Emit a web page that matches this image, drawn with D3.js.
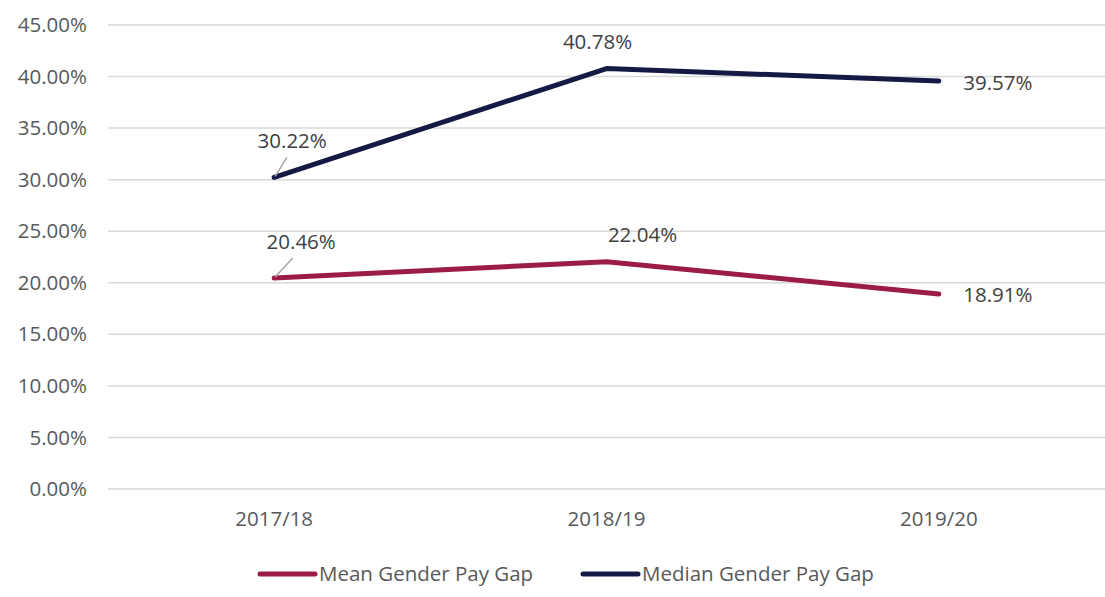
<!DOCTYPE html>
<html>
<head>
<meta charset="utf-8">
<script src="https://cdn.jsdelivr.net/npm/d3@7"></script>
<style>
  body { margin: 0; background: #fff; }
  svg { display: block; font-family: "Open Sans", sans-serif; }
</style>
</head>
<body>
<div id="chart"></div>
<script>
// data
const years = ["2017/18", "2018/19", "2019/20"];
const meanGap = [20.46, 22.04, 18.91];
const medianGap = [30.22, 40.78, 39.57];
const yTicks = [0, 5, 10, 15, 20, 25, 30, 35, 40, 45];
const seriesNames = ["Mean Gender Pay Gap", "Median Gender Pay Gap"];
const colors = ["#9b1c46", "#151a45"];

const width = 1105, height = 597;
const margin = { top: 25, right: 0, bottom: 108, left: 108 };
const innerW = width - margin.left - margin.right;
const innerH = height - margin.top - margin.bottom;
const font = "\"Open Sans\", sans-serif";
const fontSize = "20.5px";

const svg = d3.select("#chart").append("svg")
  .attr("width", width)
  .attr("height", height);

const g = svg.append("g")
  .attr("transform", `translate(${margin.left},${margin.top})`);

const x = d3.scaleBand().domain(years).range([0, innerW]);
const y = d3.scaleLinear().domain([0, 45]).range([innerH, 0]);
const cx = d => x(d) + x.bandwidth() / 2;

// gridlines
g.selectAll(".grid").data(yTicks).enter().append("line")
  .attr("x1", 0).attr("x2", innerW)
  .attr("y1", d => y(d)).attr("y2", d => y(d))
  .attr("stroke", "#d9d9d9")
  .attr("stroke-width", 1.5);

// y axis labels
const yAxis = d3.axisLeft(y).tickValues(yTicks)
  .tickFormat(d => d.toFixed(2) + "%").tickSize(0).tickPadding(21);
g.append("g").call(yAxis)
  .call(a => a.select(".domain").remove())
  .selectAll("text")
  .attr("fill", "#595959")
  .attr("font-size", fontSize)
  .attr("font-family", font);

// x axis labels
const xAxis = d3.axisBottom(x).tickSize(0).tickPadding(22);
g.append("g").attr("transform", `translate(0,${innerH})`).call(xAxis)
  .call(a => a.select(".domain").remove())
  .selectAll("text")
  .attr("fill", "#595959")
  .attr("font-size", fontSize)
  .attr("font-family", font);

// lines
const line = d3.line().x((d, i) => cx(years[i])).y(d => y(d));
[meanGap, medianGap].forEach((vals, k) => {
  g.append("path")
    .datum(vals)
    .attr("fill", "none")
    .attr("stroke", colors[k])
    .attr("stroke-width", 5)
    .attr("stroke-linecap", "round")
    .attr("stroke-linejoin", "round")
    .attr("d", line);
});

// data labels: offsets relative to point (label centre x, baseline y)
const labelOffsets = [
  [[27, -29], [36, -20], [59, 8]],
  [[18, -29], [-9, -20], [59, 9]]
];
[meanGap, medianGap].forEach((vals, k) => {
  vals.forEach((v, i) => {
    const px = cx(years[i]), py = y(v);
    const [dx, dy] = labelOffsets[k][i];
    if (i === 0) {
      // leader line
      g.append("line")
        .attr("x1", px + 1).attr("y1", py - 1)
        .attr("x2", px + dx * 0.65 + 1).attr("y2", py + dy + 9)
        .attr("stroke", "#a6a6a6")
        .attr("stroke-width", 1.5);
    }
    g.append("text")
      .attr("x", px + dx)
      .attr("y", py + dy)
      .attr("text-anchor", "middle")
      .attr("fill", "#404040")
      .attr("font-size", fontSize)
      .text(v.toFixed(2) + "%");
  });
});

// legend
const legendX = [260, 583];
const legend = svg.append("g");
seriesNames.forEach((name, k) => {
  legend.append("line")
    .attr("x1", legendX[k]).attr("x2", legendX[k] + 55)
    .attr("y1", 574).attr("y2", 574)
    .attr("stroke", colors[k])
    .attr("stroke-width", 5)
    .attr("stroke-linecap", "round");
  legend.append("text")
    .attr("x", legendX[k] + 59)
    .attr("y", 581)
    .attr("fill", "#595959")
    .attr("font-size", fontSize)
    .text(name);
});
</script>
</body>
</html>
